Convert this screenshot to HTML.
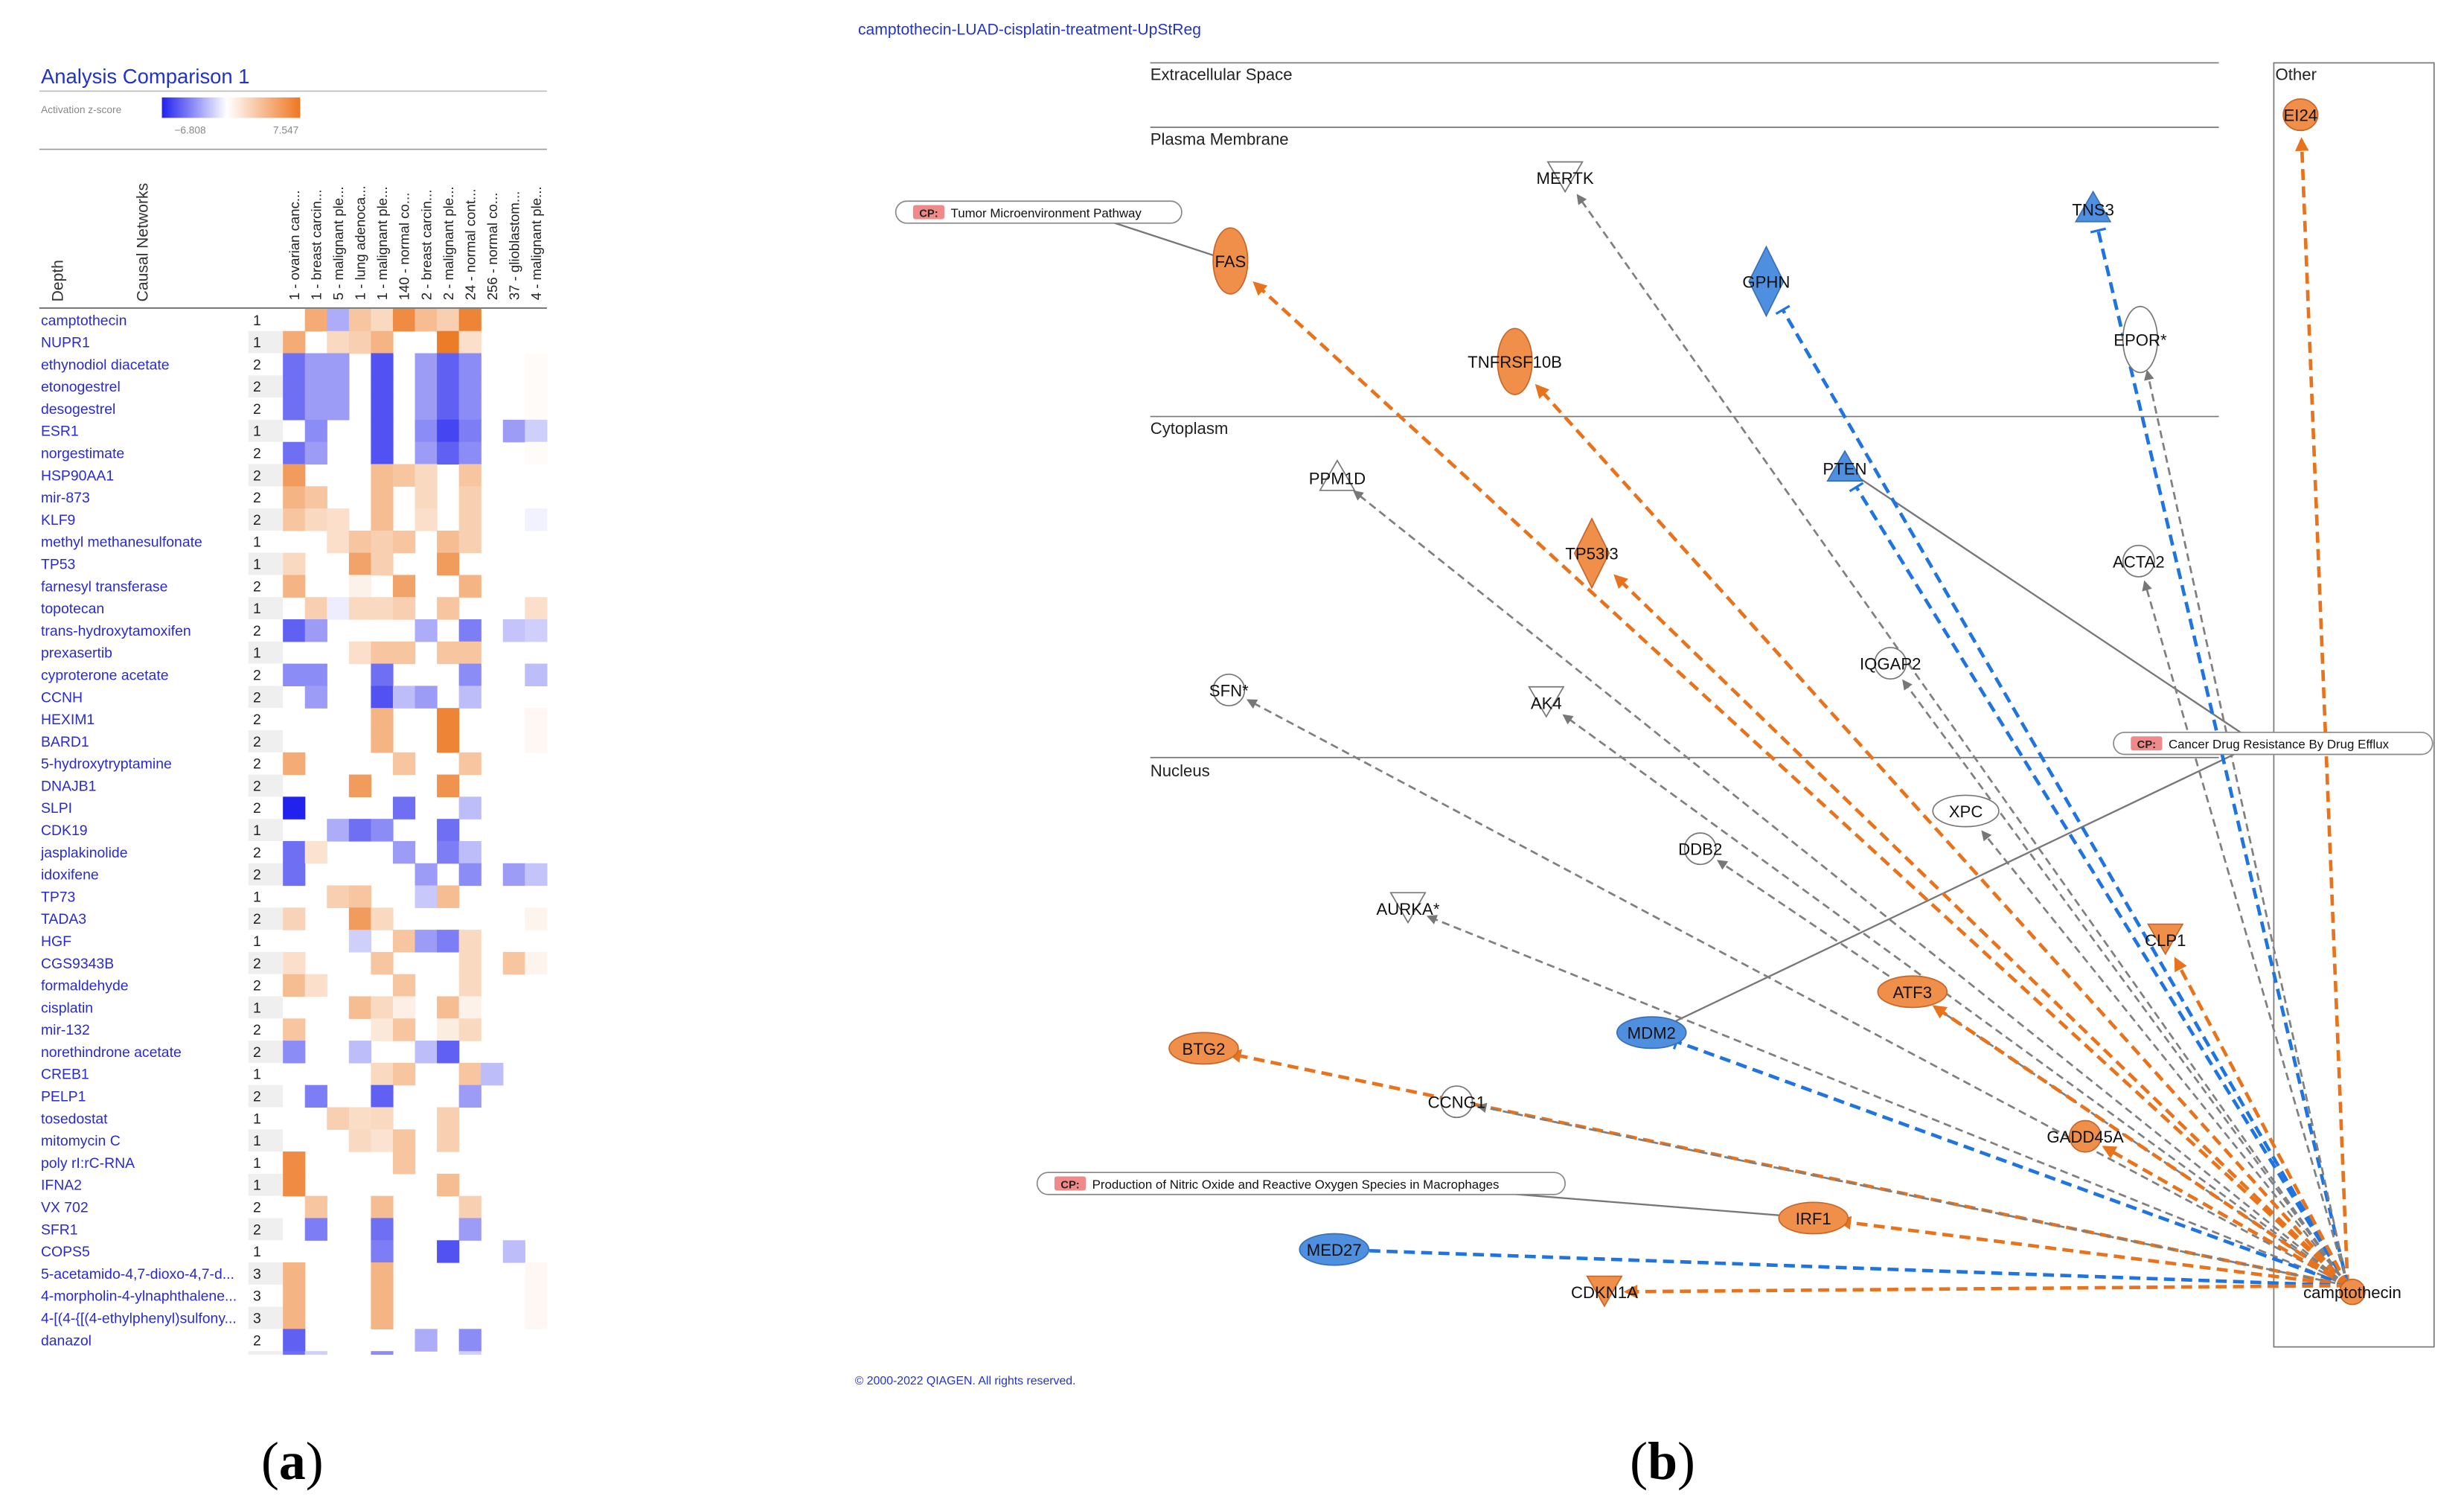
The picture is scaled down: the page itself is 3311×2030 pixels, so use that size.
<!DOCTYPE html>
<html><head><meta charset="utf-8"><style>
html,body{margin:0;padding:0;background:#fff;}
svg{display:block;}
text{font-family:"Liberation Sans",Arial,sans-serif;}
</style></head><body>
<svg id="fig" xmlns="http://www.w3.org/2000/svg" width="3311" height="2030" viewBox="0 0 1568 961.4">
<rect x="0" y="0" width="1568" height="961.4" fill="#fff"/>
<g id="panelA">
  <text x="26" y="53" font-size="13" fill="#2233cc">Analysis Comparison 1</text>
  <line x1="25" y1="58" x2="348" y2="58" stroke="#bbb" stroke-width="0.8"/>
  <text x="26" y="72" font-size="6.5" fill="#888">Activation z-score</text>
  <defs><linearGradient id="zg" x1="0" x2="1" y1="0" y2="0">
    <stop offset="0" stop-color="#2222ee"/><stop offset="0.47" stop-color="#ffffff"/><stop offset="1" stop-color="#ee7722"/></linearGradient></defs>
  <rect x="103" y="62" width="88" height="13" fill="url(#zg)"/>
  <text x="131" y="85" font-size="6.5" fill="#888" text-anchor="end">−6.808</text>
  <text x="190" y="85" font-size="6.5" fill="#888" text-anchor="end">7.547</text>
  <line x1="25" y1="95" x2="348" y2="95" stroke="#999" stroke-width="0.8"/>
  <text transform="translate(40,192) rotate(-90)" font-size="10" fill="#333">Depth</text>
  <text transform="translate(94,192) rotate(-90)" font-size="10" fill="#333">Causal Networks</text>
  <line x1="25" y1="196" x2="348" y2="196" stroke="#666" stroke-width="0.8"/>
  <g id="hm"></g>
</g>
<g id="panelB">
  <text x="546" y="22" font-size="10" fill="#2233cc">camptothecin-LUAD-cisplatin-treatment-UpStReg</text>
  <line x1="732" y1="40" x2="1412" y2="40" stroke="#777" stroke-width="0.8"/>
  <text x="732" y="51" font-size="10.5" fill="#222">Extracellular Space</text>
  <line x1="732" y1="81" x2="1412" y2="81" stroke="#777" stroke-width="0.8"/>
  <text x="732" y="92" font-size="10.5" fill="#222">Plasma Membrane</text>
  <line x1="732" y1="265" x2="1412" y2="265" stroke="#777" stroke-width="0.8"/>
  <text x="732" y="276" font-size="10.5" fill="#222">Cytoplasm</text>
  <line x1="732" y1="482" x2="1412" y2="482" stroke="#777" stroke-width="0.8"/>
  <text x="732" y="494" font-size="10.5" fill="#222">Nucleus</text>
  <rect x="1447" y="40" width="102" height="817" fill="none" stroke="#777" stroke-width="0.8"/>
  <text x="1448" y="51" font-size="10.5" fill="#222">Other</text>
  <g id="cplines"></g>
  <g id="edges"></g>
  <g id="nodes"></g>
  <g id="cps"></g>
  <text x="544" y="881" font-size="7.5" fill="#2233cc">© 2000-2022 QIAGEN. All rights reserved.</text>
</g>
<text x="186" y="941" font-size="34" text-anchor="middle" style="font-family:'Liberation Serif',serif">(<tspan font-weight="bold">a</tspan>)</text>
<text x="1058" y="941" font-size="34" text-anchor="middle" style="font-family:'Liberation Serif',serif">(<tspan font-weight="bold">b</tspan>)</text>
</svg>
<script>
const NS="http://www.w3.org/2000/svg";
const rowNames=["camptothecin","NUPR1","ethynodiol diacetate","etonogestrel","desogestrel","ESR1","norgestimate","HSP90AA1","mir-873","KLF9","methyl methanesulfonate","TP53","farnesyl transferase","topotecan","trans-hydroxytamoxifen","prexasertib","cyproterone acetate","CCNH","HEXIM1","BARD1","5-hydroxytryptamine","DNAJB1","SLPI","CDK19","jasplakinolide","idoxifene","TP73","TADA3","HGF","CGS9343B","formaldehyde","cisplatin","mir-132","norethindrone acetate","CREB1","PELP1","tosedostat","mitomycin C","poly rI:rC-RNA","IFNA2","VX 702","SFR1","COPS5","5-acetamido-4,7-dioxo-4,7-d...","4-morpholin-4-ylnaphthalene...","4-[(4-{[(4-ethylphenyl)sulfony...","danazol","CHEK2"];
const rowDepth=[1,1,2,2,2,1,2,2,2,2,1,1,2,1,2,1,2,2,2,2,2,2,2,1,2,2,1,2,1,2,2,1,2,2,1,2,1,1,1,1,2,2,1,3,3,3,2,1];
const colNames=["1 - ovarian canc...","1 - breast carcin...","5 - malignant ple...","1 - lung adenoca...","1 - malignant ple...","140 - normal co...","2 - breast carcin...","2 - malignant ple...","24 - normal cont...","256 - normal co...","37 - glioblastom...","4 - malignant ple..."];
const zMin=-6.808, zMax=7.547;
const zValues=[
[0,4,-2,2.5,1.5,6,3,2,6.5,0,0,0],
[4,0,1.5,2,3.5,0,0,7,1.2,0,0,0],
[-4,-2.5,-2.5,0,-5,0,-2.5,-4.5,-3,0,0,0.1],
[-4,-2.5,-2.5,0,-5,0,-2.5,-4.5,-3,0,0,0.1],
[-4,-2.5,-2.5,0,-5,0,-2.5,-4.5,-3,0,0,0.1],
[0,-3,0,0,-5,0,-3,-5.5,-3.5,0,-2.5,-1],
[-4,-2.5,0,0,-5,0,-2.5,-4.5,-3,0,0,0.1],
[5,0,0,0,3,2.5,1.5,0,2.5,0,0,0],
[3.5,2.5,0,0,3,0,1.5,0,2,0,0,0],
[2.5,1.5,1.2,0,3,0,1.2,0,2,0,0,-0.2],
[0,0,1.2,2.5,2,2.5,0,3,2,0,0,0],
[1.5,0,0,4.5,2,0,0,5,0,0,0,0],
[3.5,0,0,0.4,0,4.5,0,0,3.5,0,0,0],
[0,2,-0.3,1.5,1.5,2,0,2.5,0,0,0,1.2],
[-4.5,-2.5,0,0,0,0,-2,0,-3.5,0,-1.3,-1],
[0,0,0,1.2,2.5,2.5,0,2.5,2.5,0,0,0],
[-3,-3,0,0,-4,0,0,0,-3,0,0,-1.5],
[0,-2.5,0,0,-5,-1.5,-2.5,0,-1.5,0,0,0],
[0,0,0,0,3.5,0,0,6.5,0,0,0,0.2],
[0,0,0,0,3.5,0,0,6.5,0,0,0,0.2],
[4,0,0,0,0,2.5,0,0,2.5,0,0,0],
[0,0,0,5,0,0,0,5.5,0,0,0,0],
[-6.8,0,0,0,0,-4,0,0,-1.5,0,0,0],
[0,0,-2,-4,-3,0,0,-4,0,0,0,0],
[-4,1,0,0,0,-2.5,0,-3.5,-1.5,0,0,0],
[-4,0,0,0,0,0,-2.5,0,-3,0,-2.5,-1.3],
[0,0,2,2.5,0,0,-1.2,3,0,0,0,0],
[1.8,0,0,5,1.5,0,0,0,0,0,0,0.3],
[0,0,0,-1,0,2.5,-2.5,-3.5,1.5,0,0,0],
[1.2,0,0,0,2.5,0,0,0,1.5,0,2.5,0.3],
[3,1.2,0,0,0,2.5,0,0,1.5,0,0,0],
[0,0,0,3,1.5,0.5,0,3,0.4,0,0,0],
[2.5,0,0,0,0.8,2.5,0,0.6,1.5,0,0,0],
[-3,0,0,-1.5,0,0,-1.5,-4.5,0,0,0,0],
[0,0,0,0,1.5,2.5,0,0,2.5,-1.5,0,0],
[0,-3.5,0,0,-4.5,0,0,0,-2.5,0,0,0],
[0,0,2,1.3,1.5,0,0,2,0,0,0,0],
[0,0,0,1.5,1,2.5,0,2,0,0,0,0],
[6,0,0,0,0,2.5,0,0,0,0,0,0],
[6,0,0,0,0,0,0,3,0,0,0,0],
[0,2.5,0,0,3,0,0,0,2,0,0,0],
[0,-3.5,0,0,-4,0,0,0,-2.5,0,0,0],
[0,0,0,0,-3.5,0,0,-5,0,0,-1.5,0],
[3.5,0,0,0,3.5,0,0,0,0,0,0,0.2],
[3.5,0,0,0,3.5,0,0,0,0,0,0,0.2],
[3.5,0,0,0,3.5,0,0,0,0,0,0,0.2],
[-4.5,0,0,0,0,0,-2,0,-3,0,0,0],
[-4,-1,0,0,-3,0,0,0,-1,0,0,0]];

function mk(tag,attrs,parent){const e=document.createElementNS(NS,tag);for(const k in attrs)e.setAttribute(k,attrs[k]);parent.appendChild(e);return e;}
function zColor(z){
  let t,c;
  if(z>=0){t=Math.min(z/zMax,1);c=[236,116,28];}else{t=Math.min(-z/(-zMin),1);c=[34,34,238];}
  t=Math.pow(t,0.8);
  const m=i=>Math.round(255+(c[i]-255)*t);
  return `rgb(${m(0)},${m(1)},${m(2)})`;
}
const hmX0=180, colW=14.0, hmY0=196.5, rowH=14.11, hmBottom=862;
const xCol=i=>hmX0+i*colW;
const yRow=j=>hmY0+j*rowH;
const hm=document.getElementById('hm');
colNames.forEach((c,i)=>{
  const t=mk('text',{transform:`translate(${xCol(i)+colW/2+3.3},191) rotate(-90)`,'font-size':8.8,fill:'#222'},hm);
  t.textContent=c;
  
  
});
const clip=mk('clipPath',{id:'hmclip'},hm);
mk('rect',{x:0,y:196,width:360,height:hmBottom-196},clip);
const body=mk('g',{'clip-path':'url(#hmclip)'},hm);
rowNames.forEach((n,j)=>{
  const y=yRow(j);
  if(j%2===1){const g=mk('rect',{x:158,y:y,width:22,height:rowH,fill:'#efefef'},body);
    
    }
  const t=mk('text',{x:26,y:y+rowH/2+3.3,'font-size':9.2,fill:'#2a2ad0'},body);t.textContent=n;
  
  
  const d=mk('text',{x:161,y:y+rowH/2+3.3,'font-size':9.2,fill:'#222'},body);d.textContent=rowDepth[j];
  
  
  zValues[j].forEach((z,i)=>{
    if(z===0)return;
    const r=mk('rect',{x:xCol(i),y:y,width:colW+0.3,height:rowH+0.3,fill:zColor(z)},body);
    
    
  });
});

const nodeNames=["EI24","MERTK","TNS3","FAS","GPHN","EPOR*","TNFRSF10B","PPM1D","PTEN","TP53I3","ACTA2","IQGAP2","SFN*","AK4","XPC","DDB2","AURKA*","CLP1","ATF3","MDM2","BTG2","CCNG1","GADD45A","IRF1","MED27","CDKN1A"];
const nodeX=[1464,996,1332,783,1124,1362,964,851,1174,1013,1361,1203,782,984,1251,1082,896,1378,1217,1051,766,927,1327,1154,849,1021];
const nodeY=[73,113,133,166,179,216,230,304,298,352,357,422,439,447,516,540,578,598,631,657,667,701,723,775,795,822];
const nodeShape=["ell","tridown","triup","vell","diamond","vell","vell","triup","triup","diamond","circ","circ","circ","tridown","hell","circ","tridown","tridown","hell","hell","hell","circ","circ","hell","hell","tridown"];
const nodeState=["up","none","down","up","down","none","up","none","down","up","none","none","none","none","none","none","none","up","up","down","up","none","up","up","down","up"];
const srcX=1494, srcY=818;
const fillOf={up:'#ef8f4a',down:'#4f8fe0',none:'#ffffff'};
const edgeOf={up:'#e8731c',down:'#1f74e0',none:'#808080'};
const eG=document.getElementById('edges'), nG=document.getElementById('nodes');
const defs=mk('defs',{},eG);
[['up','#e8731c'],['none','#777']].forEach(([k,c])=>{
  const m=mk('marker',{id:'ar-'+k,viewBox:'0 0 10 10',refX:8,refY:5,markerWidth:k==='up'?4:5,markerHeight:k==='up'?4:5,orient:'auto',markerUnits:'strokeWidth'},defs);
  mk('path',{d:'M0,0 L10,5 L0,10 z',fill:c},m);
});
function nodeR(s){return {ell:11,tridown:9,triup:9,vell:16,diamond:16,circ:9,hell:12}[s];}
nodeNames.forEach((n,i)=>{
  const x=nodeX[i],y=nodeY[i],dx=x-srcX,dy=y-srcY,L=Math.hypot(dx,dy),ux=dx/L,uy=dy/L;
  const r=nodeR(nodeShape[i])+5;
  const ex=x-ux*r, ey=y-uy*r;
  const st=nodeState[i];
  const line=mk('line',{x1:srcX,y1:srcY,x2:ex,y2:ey,stroke:edgeOf[st],'stroke-width':st==='none'?1.3:2.2,'stroke-dasharray':st==='none'?'5,3':'7,4'},eG);
  if(st!=='down')line.setAttribute('marker-end','url(#ar-'+st+')');
  
  
  if(st==='down'){
    const px=-uy*5,py=ux*5;
    const tb=mk('line',{x1:ex+px,y1:ey+py,x2:ex-px,y2:ey-py,stroke:edgeOf[st],'stroke-width':1.5},eG);
    
    
  }
  const g=mk('g',{},nG);
  
  
  const f=fillOf[st], s=st==='none'?'#777':(st==='up'?'#c8662a':'#3a6fb8');
  const sh=nodeShape[i];
  if(sh==='ell')mk('ellipse',{cx:x,cy:y,rx:11,ry:10,fill:f,stroke:s,'stroke-width':0.8},g);
  if(sh==='vell')mk('ellipse',{cx:x,cy:y,rx:11,ry:21,fill:f,stroke:s,'stroke-width':0.8},g);
  if(sh==='hell')mk('ellipse',{cx:x,cy:y,rx:n==='XPC'?21:22,ry:10,fill:f,stroke:s,'stroke-width':0.8},g);
  if(sh==='circ')mk('circle',{cx:x,cy:y,r:10,fill:f,stroke:s,'stroke-width':0.8},g);
  if(sh==='diamond')mk('path',{d:`M${x},${y-22} L${x+11},${y} L${x},${y+22} L${x-11},${y} z`,fill:f,stroke:s,'stroke-width':0.8},g);
  if(sh==='triup')mk('path',{d:`M${x},${y-11} L${x+11},${y+8} L${x-11},${y+8} z`,fill:f,stroke:s,'stroke-width':0.8},g);
  if(sh==='tridown')mk('path',{d:`M${x-11},${y-10} L${x+11},${y-10} L${x},${y+9} z`,fill:f,stroke:s,'stroke-width':0.8},g);
  const t=mk('text',{x:x,y:y+4,'font-size':10.5,'text-anchor':'middle',fill:'#111'},g);
  t.textContent=n;
});
const sg=mk('g',{},nG);


mk('circle',{cx:1497,cy:822,r:8,fill:'#ef8f4a',stroke:'#c8662a','stroke-width':0.8},sg);
const stx=mk('text',{x:1497,y:826,'font-size':10.5,'text-anchor':'middle',fill:'#111'},sg);stx.textContent='camptothecin';

const cpLabels=["Tumor Microenvironment Pathway","Cancer Drug Resistance By Drug Efflux","Production of Nitric Oxide and Reactive Oxygen Species in Macrophages"];
const cpX=[570,1345,660], cpY=[128,466,746], cpW=[182,203,336];
const cpTargets=[[3],[8,19],[23]];
const cpl=document.getElementById('cplines'), cpg=document.getElementById('cps');
cpLabels.forEach((l,k)=>{
  cpTargets[k].forEach(ti=>{
    const ax = k===1? cpX[k]+cpW[k]*0.45 : cpX[k]+cpW[k]*0.65;
    const ln=mk('line',{x1:ax,y1:cpY[k]+7,x2:nodeX[ti],y2:nodeY[ti],stroke:'#777','stroke-width':1.1},cpl);
    
    
  });
  const g=mk('g',{},cpg);
  
  
  mk('rect',{x:cpX[k],y:cpY[k],width:cpW[k],height:14,rx:7,fill:'#fff',stroke:'#888','stroke-width':0.8},g);
  mk('rect',{x:cpX[k]+11,y:cpY[k]+2.5,width:20,height:9,rx:1.5,fill:'#f08a8a'},g);
  const c=mk('text',{x:cpX[k]+21,y:cpY[k]+10,'font-size':7,'font-weight':'bold','text-anchor':'middle',fill:'#222'},g);c.textContent='CP:';
  const t=mk('text',{x:cpX[k]+35,y:cpY[k]+10.3,'font-size':8,fill:'#111'},g);t.textContent=l;
});
</script>
</body></html>
